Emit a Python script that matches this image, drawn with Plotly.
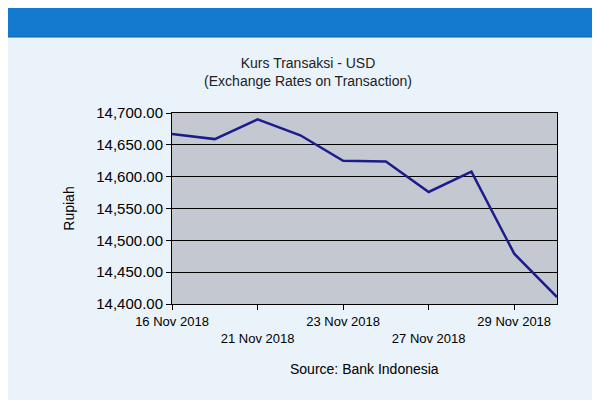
import plotly.graph_objects as go

dates = ["16 Nov 2018", "20 Nov 2018", "21 Nov 2018", "22 Nov 2018", "23 Nov 2018",
         "26 Nov 2018", "27 Nov 2018", "28 Nov 2018", "29 Nov 2018", "30 Nov 2018"]
rates = [14667, 14659, 14690, 14665, 14625, 14624, 14576, 14608, 14479, 14411]
tick_idx = [0, 2, 4, 6, 8]
tick_text = ["16 Nov 2018", "<br>21 Nov 2018", "23 Nov 2018", "<br>27 Nov 2018", "29 Nov 2018"]

# page renders with ~8px offset; plot area target on screen 172..557 x, 113..304 y
L, T, R, B = 164, 105, 549, 296
def px(p): return (p - 8 - L) / (R - L)
def py(p): return (B - (p - 8)) / (B - T)

x = list(range(len(dates)))
fig = go.Figure(go.Scatter(x=x, y=rates, mode="lines", line=dict(color="#1c1c8c", width=2.5),
                           hovertext=dates))
fig.update_layout(
    width=600, height=400, paper_bgcolor="#eaf2fa", plot_bgcolor="#c4c9d1",
    margin=dict(l=L, r=600 - R, t=T, b=400 - B), showlegend=False,
    font=dict(family="Liberation Sans, Arial", color="#000"),
    title=dict(text="Kurs Transaksi - USD<br>(Exchange Rates on Transaction)", x=0.5, xanchor="center",
               y=1 - 60 / 400, yanchor="middle", font=dict(size=14, color="#222")),
    annotations=[dict(text="Source: Bank Indonesia", xref="paper", yref="paper", x=0.5, y=py(369),
                      yanchor="middle", showarrow=False, font=dict(size=14))],
)
fig.add_shape(type="rect", xref="paper", yref="paper", x0=px(2), x1=px(596), y0=py(37), y1=py(3),
              fillcolor="#137ad0", line=dict(color="#0f5ea8", width=1))
fig.update_xaxes(range=[0, 9], tickvals=tick_idx, ticktext=tick_text, showgrid=False,
                 ticks="outside", ticklen=5, tickcolor="#000", showline=True, linecolor="#000",
                 mirror=True, tickfont=dict(size=13))
fig.update_yaxes(range=[14400, 14700], dtick=50, tickformat=",.2f", showgrid=True, gridcolor="#000",
                 gridwidth=1, ticks="outside", ticklen=5, tickcolor="#000", showline=True,
                 linecolor="#000", mirror=True, tickfont=dict(size=15),
                 title=dict(text="Rupiah", font=dict(size=14), standoff=18))
fig.write_html("out.html")
